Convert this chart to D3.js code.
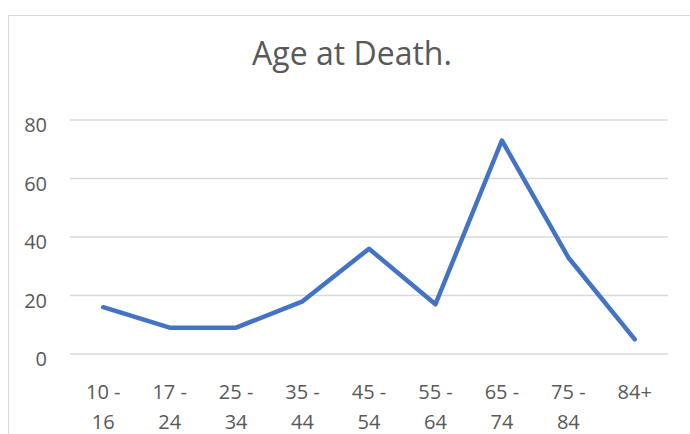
<!DOCTYPE html>
<html>
<head>
<meta charset="utf-8">
<script src="https://cdn.jsdelivr.net/npm/d3@7"></script>
<style>
  body { margin: 0; background: #fff; }
  text { font-family: "Open Sans", "Noto Sans", sans-serif; fill: #595959; }
</style>
</head>
<body>
<div id="chart"></div>
<script>
// age groups (two-line labels) and number of deaths
var groups = ["10 - 16", "17 - 24", "25 - 34", "35 - 44", "45 - 54", "55 - 64", "65 - 74", "75 - 84", "84+"];
var deaths = [16, 9, 9, 18, 36, 17, 73, 33, 5];
var yTicks = [0, 20, 40, 60, 80];

var W = 690, H = 434;
var margin = {top: 120, right: 22, bottom: 80, left: 70},
    width = W - margin.left - margin.right,
    height = H - margin.top - margin.bottom;

var root = d3.select("#chart")
    .append("svg")
    .attr("width", W)
    .attr("height", H);

// outer chart border (runs off the right and bottom edges)
root.append("rect")
    .attr("x", 8.5).attr("y", 15.5)
    .attr("width", W + 20).attr("height", H + 20)
    .attr("fill", "none")
    .attr("stroke", "#d9d9d9");

root.append("text")
    .attr("x", 352).attr("y", 65)
    .attr("text-anchor", "middle")
    .style("font-size", "32px")
    .text("Age at Death.");

var svg = root.append("g")
    .attr("transform", "translate(" + margin.left + "," + margin.top + ")");

var x = d3.scaleBand()
    .domain(groups)
    .range([0, width]);

var y = d3.scaleLinear()
    .domain([0, 80])
    .range([234, 0]);

// gridlines
svg.append("g")
    .selectAll("line")
    .data(yTicks)
    .enter()
    .append("line")
    .attr("x1", 0).attr("x2", width)
    .attr("y1", function (d) { return y(d); })
    .attr("y2", function (d) { return y(d); })
    .attr("stroke", "#d9d9d9")
    .attr("stroke-width", 1.3);

// y axis labels
var yAxis = svg.append("g")
    .attr("transform", "translate(-23,0)")
    .call(d3.axisLeft(y).tickValues(yTicks).tickSize(0).tickPadding(0));
yAxis.select(".domain").remove();
yAxis.selectAll("text")
    .attr("dy", "0.58em")
    .style("font-size", "20px")
    .style("font-family", "'Open Sans', 'Noto Sans', sans-serif")
    .attr("fill", "#595959");

// x axis labels, wrapped on two lines
var xAxis = svg.append("g")
    .attr("transform", "translate(0," + (y(0) + 45) + ")")
    .call(d3.axisBottom(x).tickSize(0).tickPadding(0));
xAxis.select(".domain").remove();
xAxis.selectAll("text")
    .style("font-size", "20px")
    .style("font-family", "'Open Sans', 'Noto Sans', sans-serif")
    .attr("fill", "#595959")
    .each(function (d) {
        var el = d3.select(this).text(null).attr("dy", null).attr("y", 0);
        var parts = d.indexOf(" - ") >= 0 ? [d.split(" - ")[0] + " -", d.split(" - ")[1]] : [d];
        parts.forEach(function (p, i) {
            el.append("tspan")
                .attr("x", 0)
                .attr("y", i * 30)
                .text(p);
        });
    });

var line = d3.line()
    .x(function (d, i) { return x(groups[i]) + x.bandwidth() / 2; })
    .y(function (d) { return y(d); });

svg.append("path")
    .datum(deaths)
    .attr("fill", "none")
    .attr("stroke", "#4472c4")
    .attr("stroke-width", 4.5)
    .attr("stroke-linejoin", "round")
    .attr("stroke-linecap", "round")
    .attr("d", line);
</script>
</body>
</html>
